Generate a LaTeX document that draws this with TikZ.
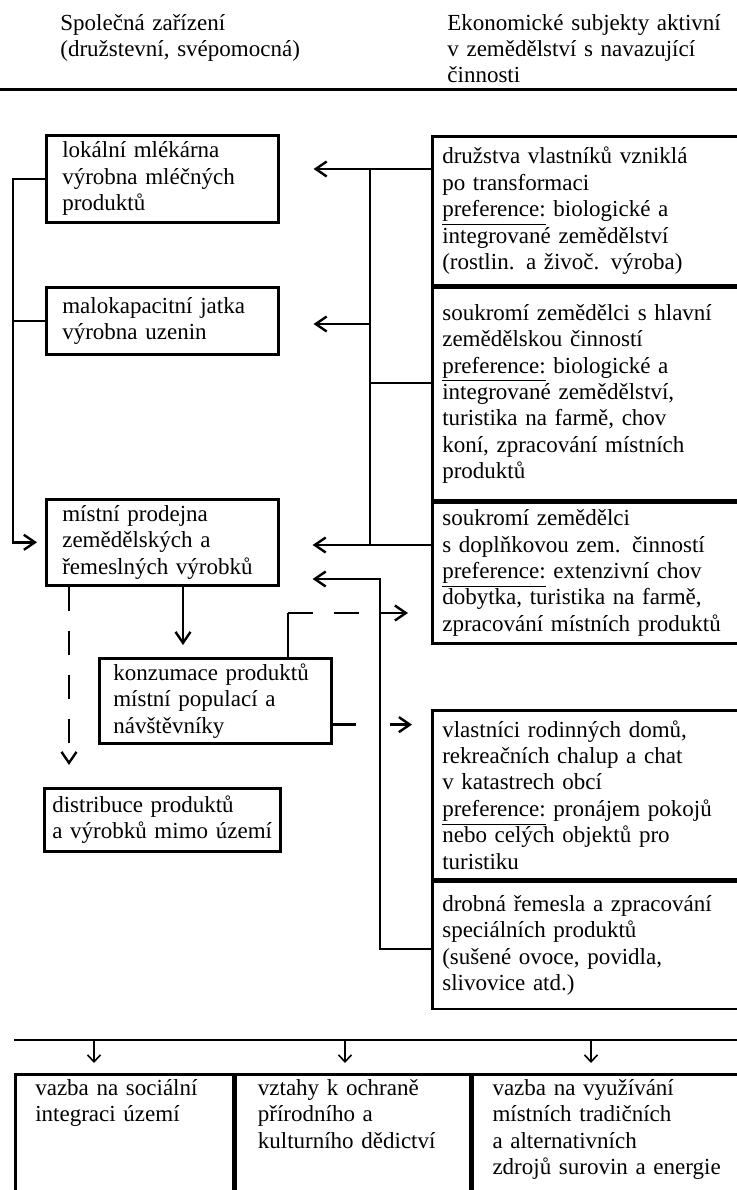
\documentclass[tikz,border=0pt]{standalone}
\usepackage{fontspec}
\setmainfont{Liberation Serif}
\usepackage{tikz}
\usetikzlibrary{positioning,arrows.meta,calc}
\newcommand{\pref}{\underline{preference:}}
\newcommand{\cellfont}{\fontsize{11.5}{13.2}\selectfont}

\begin{document}
\begin{tikzpicture}[x=0.5pt,y=-0.5pt,>={Straight Barb[length=5.5pt,width=7.5pt]},
 cell/.style={draw,line width=1.3pt,anchor=north west,align=left,inner ysep=0pt,font=\cellfont},
 lbox/.style={cell,inner xsep=8pt,text width=100pt},
 rbox/.style={cell,inner xsep=5pt,text width=150pt},
 btmbox/.style={cell,inner xsep=10pt,text height=10.5pt,text depth=56pt},
 heading/.style={anchor=base west,align=left,text width=160pt,inner sep=0pt,font=\cellfont},
 link/.style={line width=1.2pt},
 slim/.style={line width=0.8pt,>={Straight Barb[length=3.5pt,width=6.5pt]}}]
\useasboundingbox (0,0) rectangle (737,1190);

% header
\node[heading] (hleft) at (60,30) {Společná zařízení\\(družstevní, svépomocná)};
\node[heading] (hright) at (447,30) {Ekonomické subjekty aktivní\\v zemědělství s navazující\\činnosti};
\draw[line width=1.5pt] (0,89) -- (737,89);

% shared facilities
\node[lbox,minimum height=43.5pt] (dairy) at (45,134) {lokální mlékárna\\výrobna mléčných\\produktů};
\node[lbox,minimum height=33.5pt] (slaughter) at (45,286) {malokapacitní jatka\\výrobna uzenin};
\node[lbox,minimum height=43pt] (shop) at (45,498) {místní prodejna\\zemědělských a\\řemeslných výrobků};
\node[lbox,inner xsep=7pt,text width=102pt,minimum height=42.5pt] (consume) at (98,657) {konzumace produktů\\místní populací a\\návštěvníky};
\node[lbox,inner xsep=4pt,text width=110pt,minimum height=31.5pt] (distrib) at (43,787) {distribuce produktů\\a výrobků mimo území};

% economic subjects
\node[rbox,minimum height=74.5pt] (coop) at (431,135) {družstva vlastníků vzniklá\\po transformaci\\\pref{} biologické a\\integrované zemědělství\\(rostlin. a živoč. výroba)};
\node[rbox,minimum height=106pt,below=0pt of coop] (mainfarm) {soukromí zemědělci s hlavní\\zemědělskou činností\\\pref{} biologické a\\integrované zemědělství,\\turistika na farmě, chov\\koní, zpracování místních\\produktů};
\node[rbox,minimum height=70.5pt,below=0pt of mainfarm] (partfarm) {soukromí zemědělci\\s doplňkovou zem. činností\\\pref{} extenzivní chov\\dobytka, turistika na farmě,\\zpracování místních produktů};
\node[rbox,minimum height=84.5pt] (owners) at (431,709) {vlastníci rodinných domů,\\rekreačních chalup a chat\\v katastrech obcí\\\pref{} pronájem pokojů\\nebo celých objektů pro\\turistiku};
\node[rbox,minimum height=63.5pt,below=0pt of owners] (crafts) {drobná řemesla a zpracování\\speciálních produktů\\(sušené ovoce, povidla,\\slivovice atd.)};

% bottom row
\node[btmbox,text width=89pt] (social) at (14,1073) {vazba na sociální\\integraci území};
\node[btmbox,inner xsep=11pt,text width=95pt,right=0pt of social] (heritage) {vztahy k ochraně\\přírodního a\\kulturního dědictví};
\node[btmbox,text width=118pt,right=0pt of heritage] (resources) {vazba na využívání\\místních tradičních\\a alternativních\\zdrojů surovin a energie};

% right bus
\coordinate (bustop) at (370,169);
\coordinate (busmid) at (370,383);
\coordinate (busjat) at (370,324);
\coordinate (busbot) at (370,545);
\draw[link] (coop.west |- bustop) -- (bustop) -- (busbot) -- (partfarm.west |- busbot);
\draw[link] (mainfarm.west |- busmid) -- (busmid);
\draw[link,->,shorten >=17pt] (bustop) -- (dairy.east |- bustop);
\draw[link,->,shorten >=17pt] (busjat) -- (slaughter.east |- busjat);
\draw[link,->,shorten >=16.5pt] (busbot) -- (shop.east |- busbot);

% left bus
\draw[link,->,shorten >=4pt] (dairy.west) -- ++(-32,0) |- (shop.west);
\draw[link] (slaughter.west) -- ++(-32,0);

% crafts back to the shop
\coordinate (loopbot) at (380,949);
\coordinate (looptop) at (380,579);
\draw[link,->,shorten >=16.5pt] (crafts.west |- loopbot) -- (loopbot) -- (looptop) -- (shop.east |- looptop);

% shop outputs
\coordinate (sc) at (183,0);
\coordinate (sd) at (69,0);
\draw[link,->,shorten >=6pt] (shop.south -| sc) -- (consume.north -| sc);
\draw[link,->,dash pattern=on 12pt off 10pt,shorten >=11pt] (shop.south -| sd) -- (distrib.north -| sd);

% consumption links
\coordinate (kup) at (288,613);
\draw[link] (consume.north -| kup) -- (kup);
\draw[link,->,dash pattern=on 12.5pt off 10.5pt,shorten >=11.5pt] (kup) -- (partfarm.west |- kup);
\draw[link,->,shorten >=9.5pt] ($(consume.south east)+(0,-20)$) coordinate (kout) -- ++(23,0) ++(34,0) -- (owners.west |- kout);

% bottom bus
\draw[link] ($(social.north west)+(0,-33)$) -- ($(resources.north east)+(0,-33)$);
\foreach \xx/\n in {94/social,345/heritage,591/resources}{
  \coordinate (ab\n) at (\xx,1040);
  \draw[slim,->,shorten >=5pt] (ab\n) -- (ab\n |- \n.north);
}
\end{tikzpicture}
\end{document}
